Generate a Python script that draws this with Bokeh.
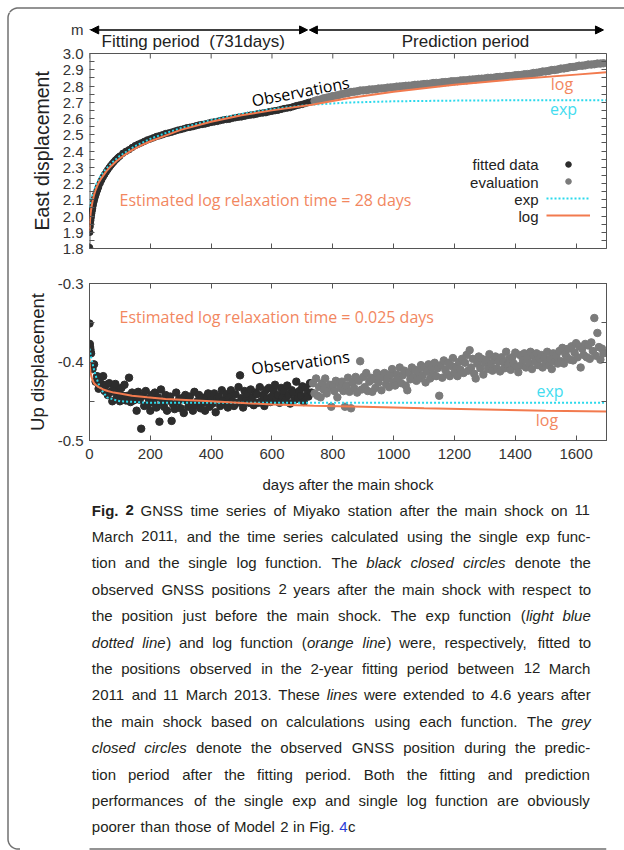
import numpy as np
from bokeh.plotting import figure
from bokeh.models import (Range1d, LinearAxis, FixedTicker, PrintfTickFormatter, CustomJSTickFormatter,
                          Label, Span, Title, Arrow, NormalHead, Legend, LegendItem)
from bokeh.layouts import row, column
from bokeh.core.properties import value
from bokeh.embed import file_html
from bokeh.resources import INLINE

# ------------------------------------------------------------------ data
FIT_DAYS = 731
X_TICKS = [0, 200, 400, 600, 800, 1000, 1200, 1400, 1600]
EAST_TICKS = [1.8, 1.9, 2.0, 2.1, 2.2, 2.3, 2.4, 2.5, 2.6, 2.7, 2.8, 2.9, 3.0]
EAST_MINOR = [1.85, 1.95, 2.05, 2.15, 2.25, 2.35, 2.45, 2.55, 2.65, 2.75, 2.85, 2.95]
UP_TICKS = [-0.5, -0.4, -0.3]
UP_MINOR = [-0.45, -0.35]

# East component, fitting period (m)
east_fit_days = list(range(0, 11)) + list(range(12, 31, 2)) + list(range(35, 101, 5)) + list(range(110, 731, 10))
east_fit = [1.806, 1.900, 1.935, 1.955, 1.972, 1.988, 2.002, 2.015, 2.027, 2.038, 2.048,
            2.066, 2.085, 2.100, 2.114, 2.127, 2.139, 2.150, 2.160, 2.170, 2.180,
            2.202, 2.222, 2.240, 2.256, 2.271, 2.285, 2.298, 2.311, 2.322, 2.333, 2.343, 2.352, 2.361, 2.369,
            2.386, 2.398, 2.408, 2.421, 2.433, 2.442, 2.450, 2.459, 2.468, 2.474,
            2.481, 2.489, 2.494, 2.500, 2.507, 2.511, 2.516, 2.522, 2.528, 2.532,
            2.537, 2.543, 2.546, 2.550, 2.555, 2.560, 2.563, 2.566, 2.571, 2.576,
            2.579, 2.582, 2.587, 2.591, 2.594, 2.596, 2.601, 2.605, 2.608, 2.610,
            2.614, 2.619, 2.621, 2.623, 2.627, 2.632, 2.634, 2.636, 2.641, 2.645,
            2.648, 2.651, 2.656, 2.661, 2.664, 2.667, 2.673, 2.679, 2.683, 2.687,
            2.693, 2.699, 2.703]
# East component, prediction period (m)
east_eval_days = list(range(740, 1691, 10))
east_eval = [2.708, 2.714, 2.717, 2.724, 2.728, 2.732, 2.738, 2.741, 2.745, 2.751,
             2.754, 2.757, 2.763, 2.765, 2.767, 2.772, 2.773, 2.774, 2.778, 2.779,
             2.780, 2.784, 2.785, 2.786, 2.790, 2.791, 2.792, 2.796, 2.797, 2.798,
             2.801, 2.802, 2.803, 2.807, 2.808, 2.809, 2.812, 2.813, 2.814, 2.818,
             2.819, 2.819, 2.823, 2.824, 2.825, 2.829, 2.829, 2.830, 2.834, 2.835,
             2.835, 2.839, 2.840, 2.841, 2.844, 2.845, 2.846, 2.850, 2.850, 2.851,
             2.855, 2.856, 2.856, 2.860, 2.861, 2.862, 2.866, 2.867, 2.868, 2.872,
             2.873, 2.875, 2.880, 2.881, 2.884, 2.889, 2.890, 2.893, 2.898, 2.899,
             2.902, 2.907, 2.908, 2.911, 2.916, 2.917, 2.920, 2.925, 2.925, 2.927,
             2.932, 2.932, 2.934, 2.938, 2.938, 2.940]
# East model curves (m)
east_exp_days = [0, 2, 5, 10, 15, 20, 30, 40, 50, 75, 100, 150, 200, 250, 300, 400, 500, 600, 731, 850, 1000, 1200, 1400, 1700]
east_exp = [2.050, 2.070, 2.095, 2.130, 2.160, 2.185, 2.225, 2.255, 2.280, 2.330, 2.370, 2.430, 2.475, 2.510,
            2.540, 2.590, 2.628, 2.658, 2.685, 2.698, 2.706, 2.710, 2.712, 2.713]
east_log_days = [0, 1, 2, 4, 7, 10, 15, 20, 30, 40, 55, 70, 90, 115, 140, 170, 200, 250, 300, 400, 500, 600,
                 731, 850, 1000, 1200, 1400, 1600, 1700]
east_log = [1.910, 1.950, 1.980, 2.020, 2.060, 2.090, 2.130, 2.160, 2.205, 2.235, 2.275, 2.305, 2.340, 2.375,
            2.405, 2.435, 2.460, 2.495, 2.530, 2.580, 2.620, 2.650, 2.685, 2.725, 2.765, 2.808, 2.842, 2.870, 2.884]

# Up component, fitting period (m)
up_fit_days = [0, 1, 2, 3, 4] + list(range(5, 731, 5))
up_fit = [-0.351, -0.377, -0.381, -0.384, -0.388,
          -0.389, -0.409, -0.403, -0.425, -0.418, -0.434, -0.420, -0.428, -0.418,
          -0.437, -0.429, -0.442, -0.427, -0.438, -0.450, -0.433, -0.428, -0.443, -0.438,
          -0.450, -0.433, -0.443, -0.429, -0.449, -0.443, -0.420, -0.451, -0.439, -0.449,
          -0.443, -0.462, -0.438, -0.448, -0.485, -0.443, -0.456, -0.437, -0.455, -0.447,
          -0.462, -0.442, -0.452, -0.439, -0.458, -0.445, -0.476, -0.435, -0.452, -0.457,
          -0.442, -0.462, -0.449, -0.444, -0.475, -0.454, -0.460, -0.439, -0.451, -0.447,
          -0.459, -0.446, -0.465, -0.442, -0.449, -0.457, -0.444, -0.454, -0.462, -0.438,
          -0.455, -0.450, -0.442, -0.459, -0.446, -0.452, -0.462, -0.444, -0.440, -0.457,
          -0.448, -0.453, -0.440, -0.464, -0.446, -0.444, -0.456, -0.436, -0.449, -0.454,
          -0.441, -0.458, -0.445, -0.436, -0.450, -0.456, -0.441, -0.452, -0.432, -0.417,
          -0.446, -0.458, -0.437, -0.449, -0.441, -0.452, -0.435, -0.446, -0.455, -0.439,
          -0.441, -0.452, -0.432, -0.450, -0.442, -0.456, -0.436, -0.446, -0.433, -0.451,
          -0.444, -0.436, -0.429, -0.447, -0.442, -0.452, -0.433, -0.445, -0.437, -0.448,
          -0.430, -0.442, -0.453, -0.436, -0.439, -0.448, -0.425, -0.446, -0.437, -0.443,
          -0.431, -0.451, -0.433, -0.442, -0.444, -0.427, -0.439]
# Up component, prediction period (m)
up_eval_days = list(range(735, 1691, 5))
up_eval = [-0.427, -0.440, -0.421, -0.443, -0.432, -0.445, -0.427, -0.435, -0.421, -0.440,
           -0.433, -0.429, -0.457, -0.430, -0.437, -0.424, -0.445, -0.427, -0.433, -0.425,
           -0.437, -0.457, -0.430, -0.420, -0.438, -0.459, -0.426, -0.433, -0.419, -0.439,
           -0.424, -0.399, -0.435, -0.419, -0.432, -0.414, -0.437, -0.425, -0.420, -0.438,
           -0.422, -0.433, -0.414, -0.426, -0.417, -0.436, -0.419, -0.414, -0.428, -0.421,
           -0.432, -0.416, -0.409, -0.425, -0.430, -0.416, -0.421, -0.407, -0.427, -0.417,
           -0.411, -0.430, -0.436, -0.414, -0.422, -0.407, -0.419, -0.410, -0.424, -0.412,
           -0.421, -0.404, -0.417, -0.407, -0.426, -0.412, -0.403, -0.421, -0.407, -0.416,
           -0.401, -0.418, -0.408, -0.443, -0.404, -0.420, -0.398, -0.410, -0.415, -0.401,
           -0.418, -0.405, -0.395, -0.413, -0.406, -0.418, -0.400, -0.410, -0.396, -0.414,
           -0.401, -0.391, -0.411, -0.385, -0.407, -0.396, -0.415, -0.421, -0.402, -0.393,
           -0.408, -0.396, -0.416, -0.401, -0.397, -0.409, -0.390, -0.403, -0.411, -0.397,
           -0.393, -0.408, -0.399, -0.412, -0.394, -0.400, -0.408, -0.387, -0.403, -0.396,
           -0.410, -0.394, -0.402, -0.388, -0.406, -0.413, -0.391, -0.404, -0.397, -0.389,
           -0.407, -0.395, -0.402, -0.387, -0.409, -0.392, -0.399, -0.389, -0.404, -0.396,
           -0.391, -0.407, -0.395, -0.402, -0.387, -0.404, -0.396, -0.409, -0.389, -0.399,
           -0.392, -0.402, -0.386, -0.399, -0.382, -0.402, -0.390, -0.394, -0.383, -0.397,
           -0.380, -0.398, -0.388, -0.376, -0.394, -0.380, -0.407, -0.383, -0.391, -0.377,
           -0.394, -0.379, -0.396, -0.375, -0.386, -0.344, -0.392, -0.363, -0.381, -0.397,
           -0.383, -0.389]
# Up model curves (m)
up_exp_days = [0, 3, 6, 10, 15, 20, 30, 40, 58, 80, 102, 150, 200, 300, 1700]
up_exp = [-0.383, -0.389, -0.396, -0.402, -0.410, -0.417, -0.428, -0.436, -0.445, -0.448, -0.450,
          -0.451, -0.452, -0.452, -0.452]
up_log_days = [0, 1, 3, 6, 10, 15, 20, 30, 45, 60, 80, 100, 140, 190, 250, 300, 400, 518, 600, 737,
               900, 1100, 1300, 1500, 1700]
up_log = [-0.396, -0.405, -0.412, -0.418, -0.423, -0.427, -0.429, -0.432, -0.435, -0.437, -0.439, -0.440,
          -0.443, -0.445, -0.447, -0.448, -0.450, -0.4525, -0.454, -0.4557, -0.457, -0.459, -0.4605,
          -0.462, -0.463]

assert len(east_fit) == len(east_fit_days) and len(east_eval) == len(east_eval_days)
assert len(up_fit) == len(up_fit_days) and len(up_eval) == len(up_eval_days)

CAPTION = [
    [("Fig. 2", "bold"), ("  GNSS time series of Miyako station after the main shock on 11", "normal")],
    [("March 2011, and the time series calculated using the single exp func-", "normal")],
    [("tion and the single log function. The ", "normal"), ("black closed circles", "italic"), (" denote the", "normal")],
    [("observed GNSS positions 2 years after the main shock with respect to", "normal")],
    [("the position just before the main shock. The exp function (", "normal"), ("light blue", "italic")],
    [("dotted line", "italic"), (") and log function (", "normal"), ("orange line", "italic"),
     (") were, respectively, fitted to", "normal")],
    [("the positions observed in the 2-year fitting period between 12 March", "normal")],
    [("2011 and 11 March 2013. These ", "normal"), ("lines", "italic"), (" were extended to 4.6 years after", "normal")],
    [("the main shock based on calculations using each function. The ", "normal"), ("grey", "italic")],
    [("closed circles", "italic"), (" denote the observed GNSS position during the predic-", "normal")],
    [("tion period after the fitting period. Both the fitting and prediction", "normal")],
    [("performances of the single exp and single log function are obviously", "normal")],
    [("poorer than those of Model 2 in Fig. ", "normal"), ("4", "link"), ("c", "normal")],
]

# ------------------------------------------------------------------ page geometry / styling
PAGE_W, PAGE_H = 624, 850
STRIP_W, TOPSTRIP_H = 20, 12
TOP_H, BOT_H = 250, 235
CAP_TOP = TOPSTRIP_H + TOP_H + BOT_H
CAP_H = PAGE_H - CAP_TOP
FRAME_L, FRAME_R = 89, 606
EAST_TOP, EAST_BOT = 53, 248          # plot box of the East panel (page px)
PX_PER_DAY = (FRAME_R - FRAME_L) / 1700.0
PX_PER_M_EAST = (EAST_BOT - EAST_TOP) / 1.2
UP_TOP, UP_BOT = 283, 440
PX_PER_M_UP = (UP_BOT - UP_TOP) / 0.2

FRAME_COLOR = "#555555"
BORDER = "#707070"
TICK_FONT = "Liberation Sans"
NOTE_FONT = "Open Sans"
CAP_FONT = "Liberation Sans"
FIT_BLACK = "#2d2d2d"
EVAL_GREY = "#7b7b7b"
ORANGE_LINE = "#f27a4e"
ORANGE_TEXT = "#f2875f"
CYAN_LINE = "#2bd9ec"
CYAN_TEXT = "#43dcef"
TEXT_DARK = "#231f20"


def day_at(px):
    return (px - FRAME_L) / PX_PER_DAY


def east_at(py):
    return 1.8 + (EAST_BOT - py) / PX_PER_M_EAST


def up_at(py):
    return -0.3 - (py - UP_TOP) / PX_PER_M_UP


def bare_fig(w, h, xr, yr):
    f = figure(width=w, height=h, x_range=xr, y_range=yr, x_axis_type=None, y_axis_type=None,
               toolbar_location=None, output_backend="svg", min_border=0)
    f.outline_line_color = None
    return f


def style_ticks(ax):
    ax.major_tick_in, ax.major_tick_out = 5, 0
    ax.minor_tick_in, ax.minor_tick_out = 5, 0
    ax.axis_line_color = FRAME_COLOR
    ax.major_tick_line_color = FRAME_COLOR
    ax.minor_tick_line_color = FRAME_COLOR
    return ax


def label_axis(ticks, minor, fmt=None, **kw):
    ax = style_ticks(LinearAxis(ticker=FixedTicker(ticks=ticks, minor_ticks=minor), **kw))
    ax.major_label_text_font = TICK_FONT
    ax.major_label_text_font_size = "15px"
    ax.major_label_text_color = "#333333"
    ax.major_label_standoff = 6
    if fmt:
        ax.formatter = PrintfTickFormatter(format=fmt)
    return ax


def tick_only_axis(ticks, **kw):
    # mirrored side: tick marks only, no labels
    return style_ticks(LinearAxis(ticker=FixedTicker(ticks=[], minor_ticks=ticks), **kw))


def set_axis_title(ax, text, size, standoff):
    ax.axis_label = text
    ax.axis_label_text_font = TICK_FONT
    ax.axis_label_text_font_size = size
    ax.axis_label_text_font_style = "normal"
    ax.axis_label_text_color = "#222222"
    ax.axis_label_standoff = standoff


def note(p, x, y, text, color, size="16px", align="left", angle=0, font=NOTE_FONT, style="normal"):
    p.add_layout(Label(x=x, y=y, text=text, text_color=color, text_font=font, text_font_size=size,
                       text_font_style=style, text_align=align, text_baseline="middle",
                       angle=angle, angle_units="deg"))


# rounded frame around the whole figure (page px)
R = 10.0
a_tl = np.linspace(1.5 * np.pi, np.pi, 16)
a_bl = np.linspace(np.pi, 0.5 * np.pi, 16)
border_x = ([PAGE_W, 7.5 + R] + list(7.5 + R + R * np.cos(a_tl)) + [7.5]
            + list(7.5 + R + R * np.cos(a_bl)) + [PAGE_W])
border_y = ([7.5, 7.5] + list(7.5 + R + R * np.sin(a_tl)) + [PAGE_H - 1.5 - R]
            + list(PAGE_H - 1.5 - R + R * np.sin(a_bl)) + [PAGE_H - 1.5])

# ------------------------------------------------------------------ East displacement (with period header)
east_top_ext = 3.0 + (EAST_TOP - TOPSTRIP_H) / PX_PER_M_EAST
UNIT_TICK = 3.145                     # carries the "m" unit label beside the header arrows
top = figure(width=PAGE_W - STRIP_W, height=TOP_H, x_range=Range1d(0, 1700),
             y_range=Range1d(1.8, east_top_ext), x_axis_type=None, y_axis_type=None,
             toolbar_location=None, output_backend="svg",
             min_border_left=FRAME_L - STRIP_W, min_border_right=PAGE_W - FRAME_R,
             min_border_top=0, min_border_bottom=TOPSTRIP_H + TOP_H - EAST_BOT)
top.outline_line_color = None

yl = label_axis(EAST_TICKS + [UNIT_TICK], EAST_MINOR)
yl.formatter = CustomJSTickFormatter(code="return tick > 3.05 ? 'm' : tick.toFixed(1)")
yl.axis_line_color = None
top.add_layout(yl, "left")
top.add_layout(Title(text="East displacement", align="left", offset=EAST_BOT - 230 - TOPSTRIP_H + 12,
                     standoff=14, text_font=TICK_FONT, text_font_size="19.5px", text_font_style="normal",
                     text_color="#222222"), "left")
top.add_layout(tick_only_axis(EAST_TICKS + EAST_MINOR, bounds=(1.8, 3.0)), "right")
top.add_layout(tick_only_axis(X_TICKS), "below")
top.add_layout(Span(location=3.0, dimension="width", line_color=FRAME_COLOR, line_width=1))
top.segment(x0=[0], y0=[1.8], x1=[0], y1=[3.0], line_color=FRAME_COLOR, line_width=2)
top.ray(x=X_TICKS, y=[3.0] * len(X_TICKS), length=5, length_units="screen", angle=-np.pi / 2,
        line_color=FRAME_COLOR, line_width=1)

r_fit = top.scatter(east_fit_days, east_fit, size=6.5, color=FIT_BLACK)
r_eval = top.scatter(east_eval_days, east_eval, size=7.5, color=EVAL_GREY)
r_exp = top.line(east_exp_days, east_exp, line_color=CYAN_LINE, line_width=2, line_dash="2 2")
r_log = top.line(east_log_days, east_log, line_color=ORANGE_LINE, line_width=2)

legend = Legend(items=[LegendItem(label=value(""), renderers=[r]) for r in (r_fit, r_eval, r_exp, r_log)],
                location=(457, 26), orientation="vertical", glyph_width=44, glyph_height=14,
                label_height=14, label_width=1, label_standoff=0, spacing=3, padding=0, margin=0,
                border_line_color=None, background_fill_alpha=0, label_text_font_size="1px")
top.add_layout(legend)
for txt, yy in [("fitted data", 164.3), ("evaluation", 181.7), ("exp", 199.3), ("log", 216)]:
    note(top, day_at(538), east_at(yy), txt, "#222222", size="15px", align="right", font=TICK_FONT)

note(top, day_at(300), east_at(91), "Observations", "black", angle=11, align="center")
note(top, day_at(561.5), east_at(83.3), "log", ORANGE_TEXT, align="center")
note(top, day_at(563), east_at(108.3), "exp", CYAN_TEXT, align="center")
note(top, day_at(119), east_at(199.3), "Estimated log relaxation time = 28 days", ORANGE_TEXT)

# period header above the East panel
for xs, xe in [(4, FIT_DAYS - 14), (FIT_DAYS - 8, 1690)]:
    top.add_layout(Arrow(start=NormalHead(size=8, fill_color="black", line_color="black"),
                         end=NormalHead(size=8, fill_color="black", line_color="black"),
                         x_start=xs, y_start=UNIT_TICK, x_end=xe, y_end=UNIT_TICK,
                         line_color="black", line_width=1.5))
note(top, day_at(101), east_at(40.5), "Fitting period\u00a0 (731days)", "#222222", size="17px", font=TICK_FONT)
note(top, day_at(465), east_at(40.5), "Prediction period", "#222222", size="17px", align="center", font=TICK_FONT)

# ------------------------------------------------------------------ Up displacement
bot = figure(width=PAGE_W - STRIP_W, height=BOT_H, x_range=Range1d(0, 1700), y_range=Range1d(-0.5, -0.3),
             x_axis_type=None, y_axis_type=None, toolbar_location=None, output_backend="svg",
             min_border_left=FRAME_L - STRIP_W, min_border_right=PAGE_W - FRAME_R,
             min_border_top=UP_TOP - (TOPSTRIP_H + TOP_H), min_border_bottom=CAP_TOP - UP_BOT)
bot.outline_line_color = FRAME_COLOR
yl2 = label_axis(UP_TICKS, UP_MINOR, "%.1f")
set_axis_title(yl2, "Up displacement", "18.5px", 7)
bot.add_layout(yl2, "left")
bot.add_layout(tick_only_axis(UP_TICKS + UP_MINOR), "right")
xb = label_axis(X_TICKS, [])
xb.major_label_standoff = 8
set_axis_title(xb, "days after the main shock", "15px", 14)
bot.add_layout(xb, "below")
bot.add_layout(tick_only_axis(X_TICKS), "above")

bot.scatter(up_fit_days, up_fit, size=7.5, color=FIT_BLACK)
bot.scatter(up_eval_days, up_eval, size=7.5, color=EVAL_GREY)
bot.line(up_exp_days, up_exp, line_color=CYAN_LINE, line_width=2, line_dash="2 2")
bot.line(up_log_days, up_log, line_color=ORANGE_LINE, line_width=2)

note(bot, day_at(119), up_at(316.7), "Estimated log relaxation time = 0.025 days", ORANGE_TEXT)
note(bot, day_at(300), up_at(362), "Observations", "black", angle=7, align="center")
note(bot, day_at(549.5), up_at(390), "exp", CYAN_TEXT, align="center")
note(bot, day_at(546.5), up_at(419.3), "log", ORANGE_TEXT, align="center")

# ------------------------------------------------------------------ caption, justified word by word
CAP_SIZE = 15
CAP_L, CAP_R = 22.7, 606.5
CAP_Y0, CAP_DY = 509.5, 26.4
# advance widths (em) of the caption face, and how wide the face actually sets in this panel
ADV = {" ": .278, "a": .556, "b": .556, "c": .500, "d": .556, "e": .556, "f": .278, "g": .556, "h": .556,
       "i": .222, "j": .222, "k": .500, "l": .222, "m": .833, "n": .556, "o": .556, "p": .556, "q": .556,
       "r": .333, "s": .500, "t": .278, "u": .556, "v": .500, "w": .722, "x": .500, "y": .500, "z": .500,
       "A": .667, "B": .667, "C": .722, "D": .722, "E": .667, "F": .611, "G": .778, "H": .722, "I": .278,
       "J": .500, "K": .667, "L": .556, "M": .833, "N": .722, "O": .778, "P": .667, "Q": .778, "R": .722,
       "S": .667, "T": .611, "U": .722, "V": .667, "W": .944, "X": .667, "Y": .667, "Z": .611,
       ".": .278, ",": .278, "-": .333, "(": .333, ")": .333, "=": .584}
ADV_BOLD = {"F": .611, "i": .278, "g": .611, ".": .278, "2": .556}
SET_WIDTH = 1.2
STYLE_FONT = {"normal": "normal", "italic": "italic", "bold": "bold", "link": "normal"}
STYLE_COLOR = {"normal": TEXT_DARK, "italic": TEXT_DARK, "bold": TEXT_DARK, "link": "#2c3fd6"}


def text_w(s, style):
    table = ADV_BOLD if style == "bold" else ADV
    return sum(table.get(ch, ADV.get(ch, .556)) for ch in s) * CAP_SIZE * SET_WIDTH


cap = bare_fig(PAGE_W - STRIP_W, CAP_H, Range1d(STRIP_W, PAGE_W), Range1d(PAGE_H, CAP_TOP))
cap.line(border_x, border_y, line_color=BORDER, line_width=1.5)
for k, runs in enumerate(CAPTION):
    words, cur = [], []
    for txt, sty in runs:
        for ch in txt:
            if ch == " ":
                if cur:
                    words.append(cur)
                    cur = []
            elif cur and cur[-1][1] == sty:
                cur[-1][0] += ch
            else:
                cur.append([ch, sty])
    if cur:
        words.append(cur)
    widths = [sum(text_w(t, s) for t, s in w) for w in words]
    if k == len(CAPTION) - 1:
        gap = text_w(" ", "normal")
    else:
        gap = (CAP_R - CAP_L - sum(widths)) / (len(words) - 1)
    x = CAP_L
    for w, wd in zip(words, widths):
        xx = x
        for t, s in w:
            note(cap, xx, CAP_Y0 + k * CAP_DY, t, STYLE_COLOR[s], size=f"{CAP_SIZE}px",
                 font=CAP_FONT, style=STYLE_FONT[s])
            xx += text_w(t, s)
        x += wd + gap

# ------------------------------------------------------------------ frame edges (top strip, left strip)
top_strip = bare_fig(PAGE_W, TOPSTRIP_H, Range1d(0, PAGE_W), Range1d(TOPSTRIP_H, 0))
top_strip.line(border_x, border_y, line_color=BORDER, line_width=1.5)
left_strip = bare_fig(STRIP_W, PAGE_H - TOPSTRIP_H, Range1d(0, STRIP_W), Range1d(PAGE_H, TOPSTRIP_H))
left_strip.line(border_x, border_y, line_color=BORDER, line_width=1.5)

layout = column(top_strip, row(left_strip, column(top, bot, cap)))
open("out.html", "w").write(file_html(layout, INLINE))
